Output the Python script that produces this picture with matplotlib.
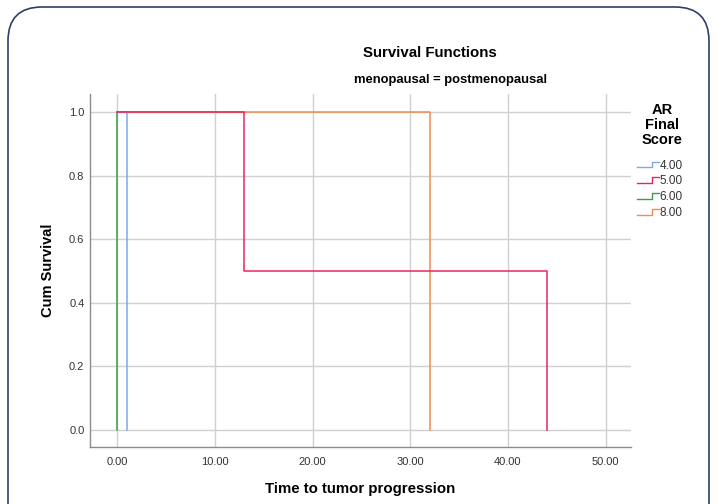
import matplotlib
matplotlib.use("Agg")
import matplotlib.pyplot as plt
from matplotlib.legend_handler import HandlerBase
from matplotlib.lines import Line2D
from matplotlib.patches import FancyBboxPatch
from matplotlib.transforms import IdentityTransform

plt.rcParams["font.family"] = ["Liberation Sans", "DejaVu Sans"]

# Kaplan-Meier steps per AR final score group (time, cumulative survival)
groups = ["4.00", "5.00", "6.00", "8.00"]
times = {"4.00": [0, 1], "5.00": [0, 13, 44], "6.00": [0, 0], "8.00": [0, 32]}
survival = {"4.00": [1.0, 0.0], "5.00": [1.0, 0.5, 0.0], "6.00": [1.0, 0.0], "8.00": [1.0, 0.0]}
colors = {"4.00": "#7fa9e3", "5.00": "#e8245c", "6.00": "#3f9a45", "8.00": "#f28a52"}
draw_order = ["8.00", "6.00", "4.00", "5.00"]

xticks = [0, 10, 20, 30, 40, 50]
yticks = [0.0, 0.2, 0.4, 0.6, 0.8, 1.0]


class StepHandler(HandlerBase):
    def create_artists(self, legend, orig_handle, xdescent, ydescent,
                       width, height, fontsize, trans):
        x0, x1 = -xdescent, -xdescent + width
        xm = x0 + width * 0.68
        y0, y1 = -ydescent + height * 0.15, -ydescent + height * 0.85
        line = Line2D([x0, xm, xm, x1], [y0, y0, y1, y1],
                      color=orig_handle.get_color(), linewidth=1.0, transform=trans)
        return [line]


fig = plt.figure(figsize=(7.18, 5.04), dpi=100)
ax = fig.add_axes([90 / 718, 1 - 447 / 504, 541 / 718, 353 / 504])

handles = {}
for g in draw_order:
    line, = ax.step(times[g], survival[g], where="post", color=colors[g], linewidth=1.1)
    handles[g] = line

ax.set_xlim(-2.8, 52.6)
ax.set_ylim(-0.055, 1.057)
ax.set_xticks(xticks)
ax.set_xticklabels([f"{t:.2f}" for t in xticks])
ax.set_yticks(yticks)
ax.set_yticklabels([f"{t:.1f}" for t in yticks])
ax.tick_params(length=0, labelsize=8, labelcolor="#333333")
ax.tick_params(axis="x", pad=7)
ax.tick_params(axis="y", pad=4)
ax.grid(True, color="#d0d0d0", linewidth=1.0)
ax.set_axisbelow(True)
for side in ["top", "right"]:
    ax.spines[side].set_visible(False)
for side in ["left", "bottom"]:
    ax.spines[side].set_color("#8c8c8c")
    ax.spines[side].set_linewidth(1.0)

ax.set_xlabel("Time to tumor progression", fontsize=10.8, fontweight="bold", labelpad=11)
ax.set_ylabel("Cum Survival", fontsize=10.5, fontweight="bold", labelpad=10)

fig.text(430 / 718, 1 - 53 / 504, "Survival Functions", ha="center", va="center",
         fontsize=10.8, fontweight="bold")
fig.text(450 / 718, 1 - 80 / 504, "menopausal = postmenopausal", ha="center", va="center",
         fontsize=9.4, fontweight="bold")

fig.text(662 / 718, 1 - 125 / 504, "AR\nFinal\nScore", ha="center", va="center",
         fontsize=10.5, fontweight="bold", linespacing=1.08)
leg = fig.legend([handles[g] for g in groups], groups,
                 loc="upper left", bbox_to_anchor=(626 / 718, 1 - 149 / 504),
                 frameon=False, fontsize=8.5, handlelength=1.9, handletextpad=0.05,
                 labelspacing=0.32, handler_map={Line2D: StepHandler()})
for txt in leg.get_texts():
    txt.set_color("#333333")

frame = FancyBboxPatch((8, -60), 701, 557, boxstyle="round,pad=0,rounding_size=34",
                       transform=IdentityTransform(), facecolor="none",
                       edgecolor="#2e3f66", linewidth=1.2)
fig.add_artist(frame)

fig.savefig("out.png", dpi=100)
